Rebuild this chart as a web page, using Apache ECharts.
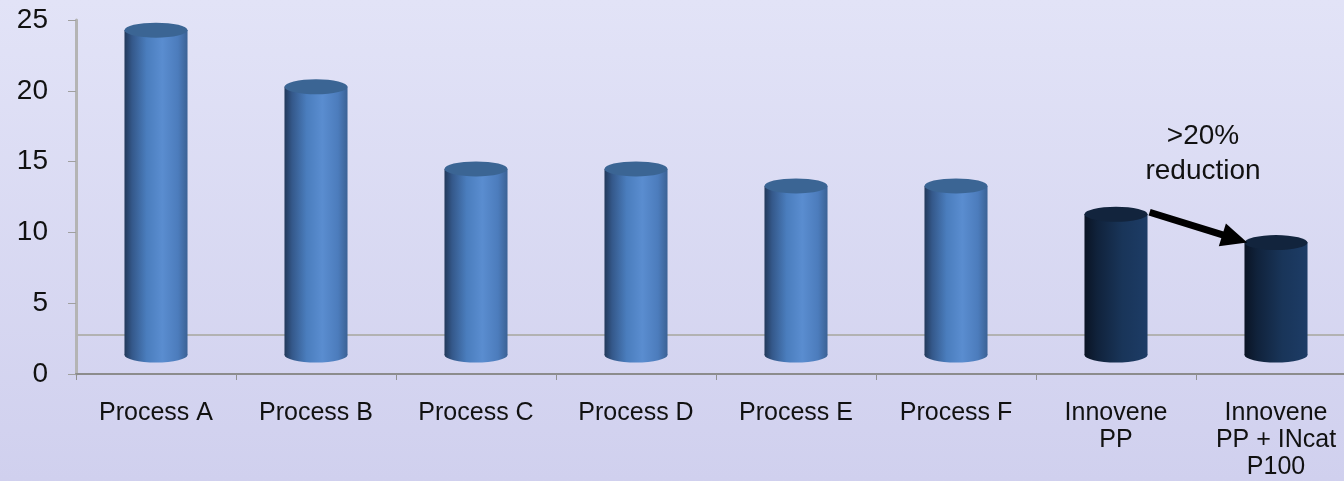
<!DOCTYPE html>
<html>
<head>
<meta charset="utf-8">
<script src="https://cdn.jsdelivr.net/npm/echarts@6/dist/echarts.min.js"></script>
<style>
html,body{margin:0;padding:0;background:#d8d9f2;overflow:hidden;}
#chart{width:1356px;height:481px;}
</style>
</head>
<body>
<div id="chart"></div>
<script>
// ---- data ----
const categories = ['Process A', 'Process B', 'Process C', 'Process D', 'Process E', 'Process F', 'Innovene\nPP', 'Innovene\nPP + INcat\nP100'];
const values = [24, 20, 14.2, 14.2, 13, 13, 11, 9];
const highlighted = [false, false, false, false, false, false, true, true];
const yTicks = { min: 0, max: 25, interval: 5 };
const annotationText = '>20%\nreduction';
const arrowFrom = 6, arrowTo = 7;

// ---- styles ----
const FONT = '"Liberation Sans", Arial, sans-serif';
const BAR_RATIO = 0.394;   // bar width / category width
const TOP_SHIFT = 4;       // 3D top ellipse offset
const DEPTH = 19;          // 3D floor offset
const RY = 7.5;
const FLOOR_LINE = 2.75;   // back-wall floor edge (visual)

const blueBody = new echarts.graphic.LinearGradient(0, 0, 1, 0, [
  {offset: 0, color: '#22395a'},
  {offset: 0.12, color: '#34588a'},
  {offset: 0.35, color: '#4a7dbd'},
  {offset: 0.6, color: '#5a8dd0'},
  {offset: 0.85, color: '#4c7cbc'},
  {offset: 1, color: '#3b6295'}
]);
const darkBody = new echarts.graphic.LinearGradient(0, 0, 1, 0, [
  {offset: 0, color: '#0a1424'},
  {offset: 0.2, color: '#10223b'},
  {offset: 0.6, color: '#193559'},
  {offset: 1, color: '#1d3c66'}
]);
const blueTop = '#3b6594';
const darkTop = '#12243d';

const chart = echarts.init(document.getElementById('chart'), null, {renderer: 'canvas'});

const option = {
  animation: false,
  backgroundColor: new echarts.graphic.LinearGradient(0, 0, 0, 1, [
    {offset: 0, color: '#e2e3f7'},
    {offset: 1, color: '#d0d0ee'}
  ]),
  grid: { left: 76, right: 0, top: 20, bottom: 106 },
  xAxis: {
    type: 'category',
    data: categories,
    axisLine: { lineStyle: { color: '#8c8c8c', width: 2 } },
    axisTick: { show: true, length: 6, lineStyle: { color: '#909090', width: 1 } },
    axisLabel: { color: '#111', fontFamily: FONT, fontSize: 25, margin: 26, lineHeight: 27, interval: 0 }
  },
  yAxis: {
    type: 'value',
    min: yTicks.min, max: yTicks.max, interval: yTicks.interval,
    axisLine: { show: true, lineStyle: { color: '#b4b4b4', width: 3 } },
    axisTick: { show: true, length: 8, lineStyle: { color: '#a0a0a0' } },
    splitLine: { show: false },
    axisLabel: { color: '#111', fontFamily: FONT, fontSize: 28, margin: 28 }
  },
  series: [{
    type: 'line',
    data: [],
    z: 1,
    markLine: {
      z: 1,
      silent: true, symbol: 'none', label: { show: false },
      lineStyle: { color: '#b2b2b2', width: 2, type: 'solid' },
      data: [{ yAxis: FLOOR_LINE }]
    }
  }, {
    type: 'custom',
    data: values.map((v, i) => [i, v]),
    encode: { x: 0, y: 1 },
    renderItem: function (params, api) {
      const i = api.value(0), v = api.value(1);
      const top = api.coord([i, v]);
      const base = api.coord([i, 0]);
      const rx = api.size([1, 0])[0] * BAR_RATIO / 2;
      const cx = top[0];
      const yTop = top[1] - TOP_SHIFT;
      const yBot = base[1] - DEPTH;
      const dark = highlighted[i];
      const body = dark ? darkBody : blueBody;
      return {
        type: 'group',
        children: [
          { type: 'circle', shape: {cx: 0, cy: 0, r: rx}, x: cx, y: yBot, scaleY: RY / rx, style: { fill: body } },
          { type: 'rect', shape: {x: cx - rx, y: yTop, width: rx * 2, height: yBot - yTop}, style: { fill: body } },
          { type: 'circle', shape: {cx: 0, cy: 0, r: rx}, x: cx, y: yTop, scaleY: RY / rx, style: { fill: dark ? darkTop : blueTop } }
        ]
      };
    },
    z: 8
  }]
};
chart.setOption(option);

// Arrow and annotation positioned through the chart's own scales
function drawAnnot() {
  const p1 = chart.convertToPixel({gridIndex: 0}, [arrowFrom, values[arrowFrom]]);
  const p2 = chart.convertToPixel({gridIndex: 0}, [arrowTo, values[arrowTo]]);
  const bw = p2[0] - p1[0];
  const sx = p1[0] + bw * 0.21, sy = p1[1] - 6;
  const ex = p2[0] - bw * 0.18, ey = p2[1] - 4;
  const ang = Math.atan2(ey - sy, ex - sx);
  const headLen = 26, headW = 12;
  const bx = ex - headLen * Math.cos(ang), by = ey - headLen * Math.sin(ang);
  const nx = -Math.sin(ang), ny = Math.cos(ang);
  const ty = chart.convertToPixel({gridIndex: 0}, [arrowFrom, 18])[1];
  const tx = (p1[0] + p2[0]) / 2 + 7;
  chart.setOption({
    graphic: [
      { type: 'line', shape: {x1: sx, y1: sy, x2: bx + 2 * Math.cos(ang), y2: by + 2 * Math.sin(ang)}, style: { stroke: '#000', lineWidth: 7 }, z: 10 },
      { type: 'polygon', shape: { points: [[ex, ey], [bx + nx * headW, by + ny * headW], [bx - nx * headW, by - ny * headW]] }, style: { fill: '#000' }, z: 10 },
      { type: 'text', x: tx, y: ty, style: { text: annotationText, fontFamily: FONT, fontSize: 28, lineHeight: 35, fill: '#111', align: 'center', verticalAlign: 'top' }, z: 10 }
    ]
  });
}
drawAnnot();
</script>
</body>
</html>
